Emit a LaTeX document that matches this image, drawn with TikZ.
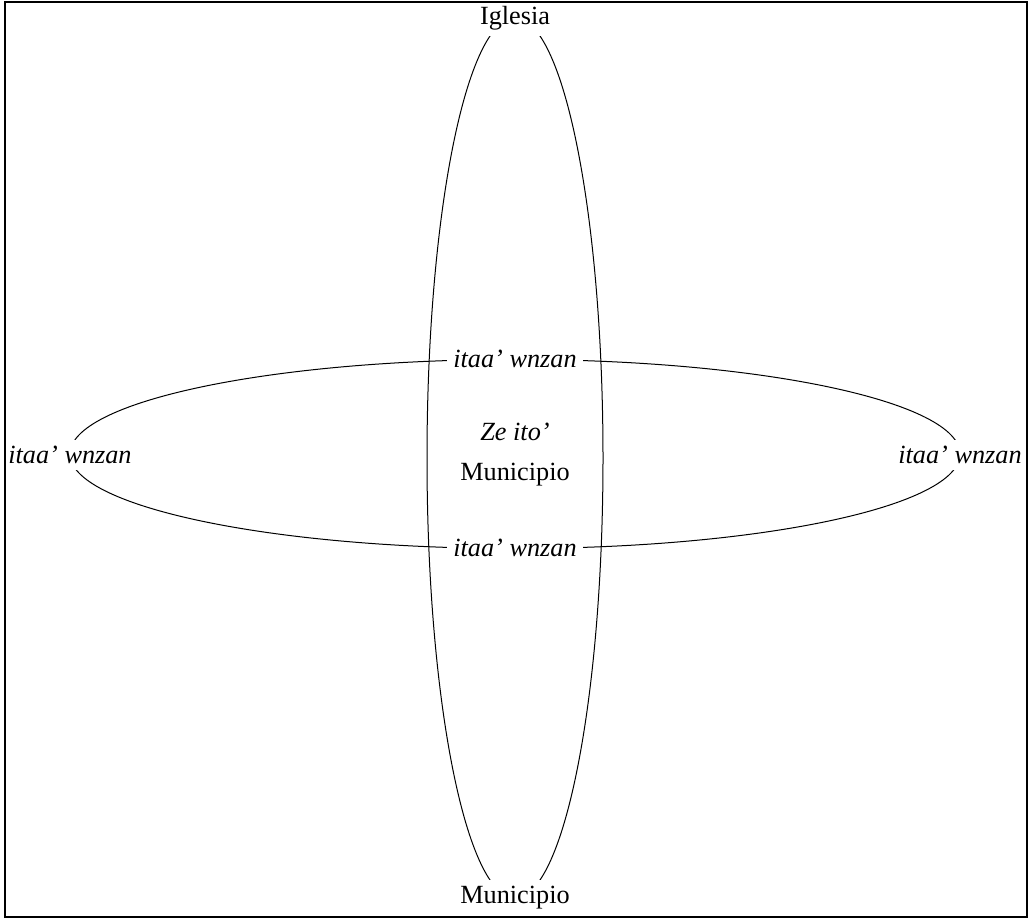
\documentclass[tikz,border=0pt]{standalone}
\usepackage{fontspec}
\setmainfont{Liberation Serif}
\usepackage{tikz}

\begin{document}
\begin{tikzpicture}[
        x=0.4pt, y=0.4pt,
        every node/.style={font=\fontsize{10.5}{12.6}\selectfont},
        lbl/.style={fill=white, inner sep=2.5pt},
        ilbl/.style={lbl, font=\fontsize{10.5}{12.6}\selectfont\itshape},
        frame/.style={draw=black, thick}
        ]
        \useasboundingbox (0,0) rectangle (1033,920);

        % the two ellipses
        \draw (515,462) ellipse [x radius=35.2pt, y radius=176pt];
        \draw (515,466) ellipse [x radius=178pt, y radius=37.8pt];

        % ends of the vertical ellipse
        \node[lbl] (iglesia) at (515,902) {Iglesia};
        \node[lbl] (muni) at (515,22) {Municipio};

        % crossings and ends of the horizontal ellipse
        \node[ilbl] (wtop) at (515,561) {itaa’ wnzan};
        \node[ilbl] (wbot) at (515,372) {itaa’ wnzan};
        \node[ilbl] (wleft) at (70,465) {itaa’ wnzan};
        \node[ilbl] (wright) at (960,465) {itaa’ wnzan};

        % centre
        \node[font=\fontsize{10.5}{12.6}\selectfont\itshape] (zeito) at (515,488) {Ze ito’};
        \node (centre) at (515,445) {Municipio};

        % frame
        \draw[frame] (5,3) rectangle (1027,918);
    \end{tikzpicture}
\end{document}
